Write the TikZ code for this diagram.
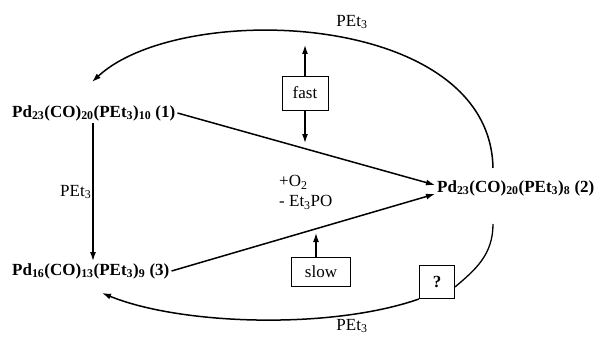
\documentclass[tikz,border=0pt]{standalone}
\usepackage{fontspec}
\setmainfont{Liberation Serif}
\usetikzlibrary{arrows.meta,positioning,calc}
\tikzset{
  cluster/.style={font=\fontsize{17}{20}\selectfont\bfseries, inner sep=2pt},
  ratebox/.style={draw, line width=1pt, font=\fontsize{17}{20}\selectfont, inner sep=0pt},
  label/.style={font=\fontsize{17}{20}\selectfont, inner sep=1pt},
  react/.style={line width=1.5pt, -{Latex[length=9pt,width=6pt]}},
  plain/.style={line width=1.3pt}
}
\begin{document}
\begin{tikzpicture}[x=1pt, y=-1pt]
            \useasboundingbox (0,0) rectangle (599,337);
            \node[cluster, anchor=west] (p1) at (10,113) {Pd\textsubscript{23}(CO)\textsubscript{20}(PEt\textsubscript{3})\textsubscript{10} (1)};
            \node[cluster, anchor=west] (p3) at (10,271) {Pd\textsubscript{16}(CO)\textsubscript{13}(PEt\textsubscript{3})\textsubscript{9} (3)};
            \node[cluster, anchor=west] (p2) at (435,188) {Pd\textsubscript{23}(CO)\textsubscript{20}(PEt\textsubscript{3})\textsubscript{8} (2)};
            \node[ratebox, minimum width=46pt, minimum height=34pt] (fast) at (305,93) {fast};
            \node[ratebox, minimum width=59pt, minimum height=29pt] (slow) at (321,272) {slow};
            \node[ratebox, minimum width=35pt, minimum height=33pt, font=\fontsize{17}{20}\selectfont\bfseries] (q) at (437,282) {?};
            \coordinate (p1in) at (92,82);
            \coordinate (p3in) at (102,293);
            \coordinate (p2top) at (493,168);
            \coordinate (p2bot) at (493,224);
            \coordinate (fastup) at (305,45);
            \coordinate (fastdown) at (305,143);
            \coordinate (slowup) at ($(slow.north)+(-5,-24)$);
            \draw[react] (p1.south -| 93,0) -- (p3.north -| 93,0) node[midway, label, left] {PEt\textsubscript{3}};
            \draw[react] (p1.east) -- ([yshift=3pt]p2.west);
            \draw[react] (p3.east) -- ([yshift=-6pt]p2.west);
            \draw[react] (p2top) .. controls (490,10) and (180,0) .. (p1in);
            \node[label] (toplabel) at (352,22) {PEt\textsubscript{3}};
            \draw[plain, -{Latex[length=9pt,width=6pt]}] (fast.north) -- (fastup);
            \draw[plain, -{Latex[length=9pt,width=6pt]}] (fast.south) -- (fastdown);
            \draw[plain, -{Latex[length=9pt,width=6pt]}] (slow.north -| slowup) -- (slowup);
            \node[label, anchor=north west, align=left] (ox) at (278,174) {+O\textsubscript{2}\\- Et\textsubscript{3}PO};
            \draw[plain] (p2bot) .. controls (493,255) and (475,270) .. ([yshift=-5pt]q.east);
            \draw[react] (q.south west) .. controls (330,330) and (180,325) .. (p3in);
            \node[label] (botlabel) at (352,326) {PEt\textsubscript{3}};
        \end{tikzpicture}
\end{document}
